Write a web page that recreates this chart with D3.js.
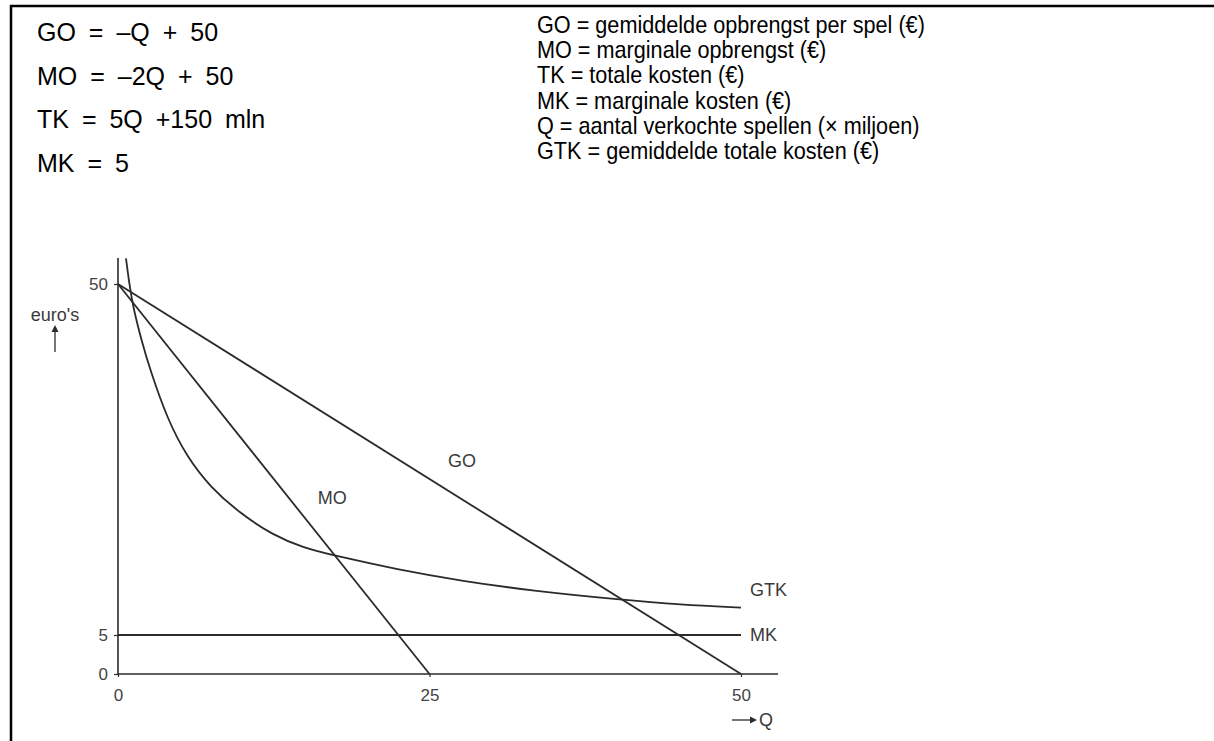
<!DOCTYPE html>
<html>
<head>
<meta charset="utf-8">
<script src="https://cdn.jsdelivr.net/npm/d3@7"></script>
<style>
  body { margin: 0; background: #fff; }
  text { font-family: "Liberation Sans", Arial, sans-serif; }
</style>
</head>
<body>
<div id="chart"></div>
<script>
// formulas (left) and legend of symbols (right)
const formulas = ["GO = \u2013Q + 50", "MO = \u20132Q + 50", "TK = 5Q +150 mln", "MK = 5"];
const symbols = [
    "GO = gemiddelde opbrengst per spel (\u20ac)",
    "MO = marginale opbrengst (\u20ac)",
    "TK = totale kosten (\u20ac)",
    "MK = marginale kosten (\u20ac)",
    "Q = aantal verkochte spellen (\u00d7 miljoen)",
    "GTK = gemiddelde totale kosten (\u20ac)"
];

// axis ticks
const qTicks = [0, 25, 50];
const pTicks = [0, 5, 50];

// lines [Q, euro]
const goLine = [[0, 50], [50, 0]];
const moLine = [[0, 50], [25, 0]];
const mkLine = [[0, 5], [50, 5]];

// GTK curve
const gtkQ = [0.64, 0.9, 1.2, 1.93, 2.6, 3.93, 5.54, 7.38, 9.79, 12.44, 14.85, 17.3, 22.4, 27.7, 33.1, 40.5, 45.1, 50];
const gtkV = [53.3, 50.1, 47.1, 42.5, 38.9, 32.8, 27.8, 24.0, 20.6, 17.8, 16.2, 15.2, 13.4, 11.9, 10.7, 9.5, 8.9, 8.5];

const W = 1214, H = 741;
const ink = "#2b2b2b";

let svg = d3.select("#chart").append("svg")
    .attr("width", W)
    .attr("height", H);

// frame: top and left border
svg.append("line").attr("x1", 10).attr("x2", W).attr("y1", 6).attr("y2", 6)
    .attr("stroke", "#000").attr("stroke-width", 2.5);
svg.append("line").attr("x1", 11).attr("x2", 11).attr("y1", 5).attr("y2", H)
    .attr("stroke", "#000").attr("stroke-width", 2.5);

// formulas
svg.append("g").selectAll("text")
    .data(formulas)
    .enter().append("text")
    .attr("x", 37)
    .attr("y", (d, i) => 41 + i * 43.6)
    .style("font-size", "25px")
    .style("word-spacing", "6px")
    .attr("fill", "#000")
    .text(d => d);

// symbols legend, squeezed to its width in the reference
let symG = svg.append("g");
let symText = symG.selectAll("text")
    .data(symbols)
    .enter().append("text")
    .attr("x", 0)
    .attr("y", (d, i) => 33 + i * 25.2)
    .style("font-size", "24px")
    .attr("fill", "#000")
    .text(d => d);
let w0 = symText.node().getComputedTextLength();
symG.attr("transform", "translate(537,0) scale(" + (388 / w0) + ",1)");

// chart
let x = d3.scaleLinear().domain([0, 50]).range([118, 741]);
let y = d3.scaleLinear().domain([0, 50]).range([674, 284]);

let chart = svg.append("g");

// axis lines
chart.append("line")
    .attr("x1", x(0)).attr("x2", x(0))
    .attr("y1", 258).attr("y2", y(0) + 1)
    .attr("stroke", ink).attr("stroke-width", 1.6);
chart.append("line")
    .attr("x1", x(0)).attr("x2", 778)
    .attr("y1", y(0)).attr("y2", y(0))
    .attr("stroke", ink).attr("stroke-width", 1.6);

let yAxis = d3.axisLeft(y).tickValues(pTicks).tickSize(4).tickPadding(6);
let yAx = chart.append("g").attr("transform", "translate(" + x(0) + ",0)").call(yAxis);
yAx.select(".domain").remove();
yAx.selectAll("line").attr("stroke", ink).attr("stroke-width", 1.2);
yAx.selectAll("text").style("font-size", "17px").attr("fill", "#444")
    .style("font-family", "\"Liberation Sans\", Arial, sans-serif");

let xAxis = d3.axisBottom(x).tickValues(qTicks).tickSize(3).tickPadding(12);
let xAx = chart.append("g").attr("transform", "translate(0," + y(0) + ")").call(xAxis);
xAx.select(".domain").remove();
xAx.selectAll("line").attr("stroke", ink).attr("stroke-width", 1.2);
xAx.selectAll("text").style("font-size", "17px").attr("fill", "#444")
    .style("font-family", "\"Liberation Sans\", Arial, sans-serif");

// curves
let line = d3.line().x(d => x(d[0])).y(d => y(d[1]));
[goLine, moLine, mkLine].forEach(l => {
    chart.append("path")
        .attr("d", line(l))
        .attr("fill", "none")
        .attr("stroke", ink)
        .attr("stroke-width", 1.8);
});

let gtk = gtkQ.map((q, i) => [q, gtkV[i]]);
chart.append("path")
    .attr("d", line.curve(d3.curveBasis)(gtk))
    .attr("fill", "none")
    .attr("stroke", ink)
    .attr("stroke-width", 1.8);

// curve labels
let labels = [
    {t: "GO", x: x(27.6), y: y(27.4), a: "middle"},
    {t: "MO", x: x(17.2), y: y(22.6), a: "middle"},
    {t: "GTK", x: 750, y: y(10.8), a: "start"},
    {t: "MK", x: 750, y: y(5), a: "start"}
];
chart.selectAll(".lbl")
    .data(labels)
    .enter().append("text")
    .attr("class", "lbl")
    .attr("x", d => d.x)
    .attr("y", d => d.y)
    .attr("dy", "0.35em")
    .attr("text-anchor", d => d.a)
    .style("font-size", "18px")
    .attr("fill", "#3a3a3a")
    .text(d => d.t);

// y-axis title with arrow
chart.append("text")
    .attr("x", 55).attr("y", 315).attr("dy", "0.35em")
    .attr("text-anchor", "middle")
    .style("font-size", "18px")
    .attr("fill", "#3a3a3a")
    .text("euro's");
chart.append("line")
    .attr("x1", 55).attr("x2", 55).attr("y1", 352).attr("y2", 328)
    .attr("stroke", ink).attr("stroke-width", 1.3);
chart.append("path")
    .attr("d", "M51.5,332 L55,325 L58.5,332 Z")
    .attr("fill", ink);

// x-axis title with arrow
chart.append("line")
    .attr("x1", 732).attr("x2", 754).attr("y1", 720).attr("y2", 720)
    .attr("stroke", ink).attr("stroke-width", 1.3);
chart.append("path")
    .attr("d", "M750,716.5 L757,720 L750,723.5 Z")
    .attr("fill", ink);
chart.append("text")
    .attr("x", 759).attr("y", 720).attr("dy", "0.35em")
    .style("font-size", "18px")
    .attr("fill", "#3a3a3a")
    .text("Q");
</script>
</body>
</html>
